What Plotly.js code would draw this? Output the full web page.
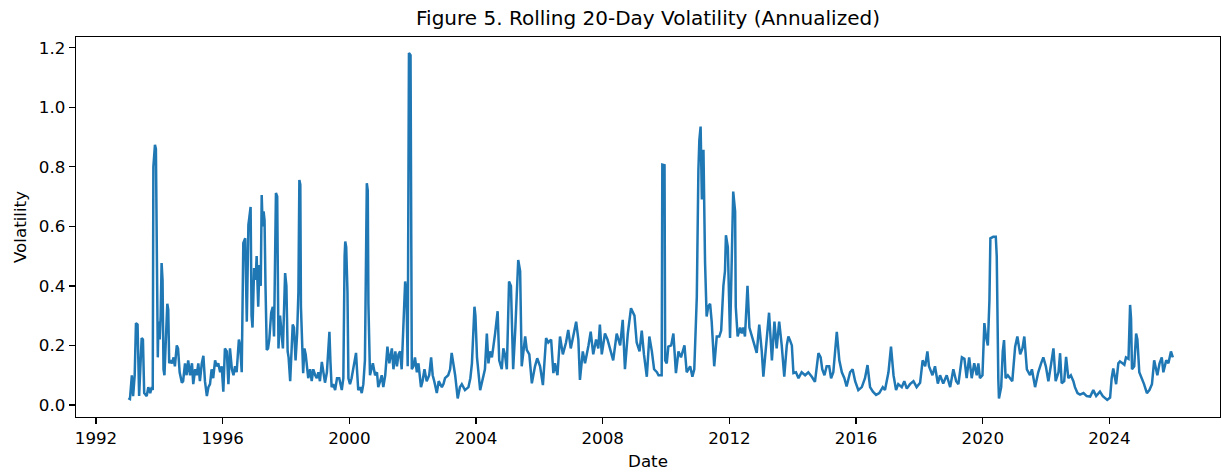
<!DOCTYPE html>
<html>
<head>
<meta charset="utf-8">
<script src="https://cdn.plot.ly/plotly-3.0.1.min.js"></script>
<style>html,body{margin:0;padding:0;background:#fff;}#chart{width:1221px;height:472px;}</style>
</head>
<body>
<div id="chart"></div>
<script>
const years = [
1993.02,1993.07,1993.13,1993.17,1993.22,1993.26,1993.31,1993.34,1993.36,1993.44,1993.48,1993.52,1993.60,1993.65,1993.71,1993.76,1993.79,1993.81,1993.86,1993.89,1993.93,1993.95,1993.97,
1994.01,1994.04,1994.07,1994.10,1994.13,1994.16,1994.19,1994.25,1994.28,1994.31,1994.35,1994.40,1994.45,1994.49,1994.55,1994.59,1994.64,1994.71,1994.75,1994.81,1994.86,1994.91,1994.97,
1995.03,1995.07,1995.13,1995.18,1995.23,1995.28,1995.34,1995.39,1995.44,1995.50,1995.55,1995.60,1995.65,1995.70,1995.76,1995.81,1995.86,1995.92,1995.97,
1996.02,1996.07,1996.13,1996.18,1996.23,1996.29,1996.34,1996.39,1996.44,1996.51,1996.55,1996.60,1996.65,1996.71,1996.76,1996.81,1996.84,1996.88,1996.91,1996.94,1996.99,
1997.04,1997.07,1997.12,1997.16,1997.20,1997.23,1997.26,1997.29,1997.32,1997.35,1997.39,1997.43,1997.47,1997.53,1997.58,1997.62,1997.68,1997.72,1997.76,1997.81,1997.86,1997.90,1997.97,
1998.01,1998.05,1998.08,1998.13,1998.17,1998.21,1998.25,1998.30,1998.35,1998.39,1998.42,1998.45,1998.47,1998.54,1998.58,1998.62,1998.70,1998.76,1998.81,1998.86,1998.92,1998.97,
1999.02,1999.07,1999.13,1999.17,1999.23,1999.29,1999.34,1999.37,1999.40,1999.44,1999.49,1999.55,1999.61,1999.68,1999.76,1999.81,1999.85,1999.87,1999.90,1999.94,1999.97,
2000.02,2000.07,2000.12,2000.18,2000.21,2000.24,2000.28,2000.34,2000.39,2000.44,2000.49,2000.55,2000.58,2000.60,2000.65,2000.74,2000.81,2000.87,2000.91,2000.97,
2001.02,2001.07,2001.13,2001.20,2001.23,2001.26,2001.34,2001.39,2001.45,2001.50,2001.55,2001.60,2001.65,2001.70,2001.76,2001.80,2001.84,2001.88,2001.93,2001.97,
2002.02,2002.07,2002.13,2002.18,2002.23,2002.26,2002.31,2002.37,2002.44,2002.52,2002.58,2002.63,2002.68,2002.76,2002.82,2002.92,2002.97,
2003.02,2003.12,2003.18,2003.23,2003.27,2003.34,2003.42,2003.49,2003.55,2003.65,2003.76,2003.82,2003.87,2003.95,2003.98,
2004.03,2004.13,2004.23,2004.28,2004.34,2004.39,2004.44,2004.50,2004.60,2004.68,2004.73,2004.81,2004.86,2004.91,2004.97,
2005.01,2005.04,2005.10,2005.17,2005.24,2005.29,2005.33,2005.39,2005.44,2005.55,2005.60,2005.68,2005.76,2005.86,2005.93,
2006.02,2006.11,2006.21,2006.28,2006.37,2006.44,2006.49,2006.57,2006.65,2006.74,2006.84,2006.91,2006.99,
2007.07,2007.16,2007.23,2007.28,2007.37,2007.44,2007.55,2007.62,2007.70,2007.79,2007.86,2007.91,2007.97,
2008.07,2008.15,2008.23,2008.33,2008.44,2008.55,2008.63,2008.70,2008.79,2008.89,
2009.00,2009.07,2009.16,2009.23,2009.30,2009.39,2009.47,2009.55,2009.62,2009.71,2009.76,2009.86,2009.88,2009.95,2009.97,
2010.02,2010.07,2010.16,2010.23,2010.31,2010.39,2010.47,2010.58,2010.65,2010.76,2010.83,2010.89,2010.97,
2011.02,2011.05,2011.09,2011.13,2011.18,2011.23,2011.28,2011.33,2011.39,2011.44,2011.52,2011.60,2011.68,2011.74,2011.81,2011.86,2011.89,2011.95,
2012.02,2012.07,2012.12,2012.18,2012.20,2012.26,2012.34,2012.39,2012.44,2012.49,2012.57,2012.63,2012.71,2012.81,2012.86,2012.94,
2013.02,2013.07,2013.15,2013.25,2013.34,2013.42,2013.49,2013.57,2013.65,2013.73,2013.81,2013.86,2013.91,2013.97,
2014.02,2014.10,2014.18,2014.28,2014.39,2014.49,2014.60,2014.70,2014.81,2014.88,2014.93,
2015.00,2015.07,2015.15,2015.21,2015.28,2015.39,2015.47,2015.55,2015.63,2015.70,2015.81,2015.89,2015.97,
2016.07,2016.18,2016.28,2016.36,2016.44,2016.53,2016.63,2016.73,2016.84,2016.91,
2017.02,2017.10,2017.18,2017.26,2017.33,2017.44,2017.52,2017.60,2017.70,2017.81,2017.91,
2018.02,2018.10,2018.18,2018.25,2018.30,2018.41,2018.49,2018.58,2018.65,2018.75,2018.86,2018.97,
2019.07,2019.16,2019.23,2019.34,2019.42,2019.49,2019.57,2019.65,2019.73,2019.81,2019.86,2019.91,2019.99,
2020.05,2020.10,2020.16,2020.21,2020.24,2020.33,2020.41,2020.44,2020.49,2020.51,2020.58,2020.63,2020.67,2020.72,2020.79,2020.86,2020.93,
2021.02,2021.09,2021.18,2021.25,2021.31,2021.39,2021.49,2021.55,2021.65,2021.75,2021.84,2021.91,2021.99,
2022.07,2022.16,2022.23,2022.30,2022.39,2022.44,2022.49,2022.57,2022.63,2022.70,2022.78,2022.86,2022.91,2022.99,
2023.07,2023.18,2023.28,2023.39,2023.49,2023.58,2023.70,2023.79,2023.84,2023.93,
2024.02,2024.07,2024.12,2024.21,2024.28,2024.33,2024.41,2024.47,2024.52,2024.60,2024.65,2024.68,2024.71,2024.78,2024.84,2024.88,2024.94,
2025.02,2025.09,2025.18,2025.26,2025.34,2025.41,2025.47,2025.51,2025.58,2025.65,2025.70,2025.79,2025.86,2025.94,2026.00
];

// Rolling 20-day annualized volatility
const volatility = [
0.023,0.02,0.10,0.03,0.10,0.275,0.27,0.05,0.03,0.225,0.22,0.04,0.03,0.06,0.04,0.06,0.05,0.80,0.874,0.86,0.25,0.16,0.28,
0.22,0.30,0.477,0.42,0.12,0.10,0.18,0.34,0.32,0.14,0.15,0.14,0.16,0.13,0.20,0.19,0.11,0.075,0.08,0.14,0.10,0.15,0.10,
0.14,0.07,0.12,0.10,0.14,0.08,0.14,0.165,0.08,0.03,0.06,0.07,0.12,0.09,0.15,0.13,0.14,0.11,0.13,
0.045,0.19,0.18,0.07,0.19,0.12,0.10,0.13,0.11,0.22,0.20,0.11,0.544,0.56,0.28,0.605,0.63,0.665,0.30,0.26,0.46,
0.42,0.50,0.33,0.47,0.40,0.705,0.60,0.65,0.62,0.40,0.185,0.19,0.22,0.31,0.33,0.23,0.712,0.70,0.19,0.30,0.22,0.19,0.443,
0.40,0.18,0.16,0.08,0.20,0.27,0.26,0.15,0.24,0.38,0.756,0.74,0.33,0.107,0.19,0.17,0.09,0.12,0.08,0.12,0.10,0.09,
0.11,0.08,0.145,0.12,0.075,0.11,0.20,0.246,0.15,0.06,0.07,0.05,0.09,0.09,0.05,0.09,0.50,0.549,0.53,0.38,0.09,
0.07,0.09,0.12,0.16,0.175,0.12,0.05,0.06,0.04,0.07,0.15,0.745,0.72,0.34,0.10,0.14,0.10,0.11,0.06,0.08,
0.10,0.06,0.10,0.196,0.15,0.14,0.19,0.12,0.18,0.13,0.17,0.18,0.12,0.24,0.415,0.38,0.13,1.182,1.175,0.12,
0.13,0.16,0.11,0.14,0.10,0.06,0.08,0.12,0.08,0.10,0.16,0.10,0.08,0.04,0.08,0.06,0.07,
0.09,0.10,0.12,0.175,0.15,0.10,0.022,0.06,0.07,0.05,0.06,0.09,0.14,0.33,0.30,
0.16,0.05,0.10,0.12,0.24,0.14,0.18,0.16,0.24,0.315,0.15,0.12,0.19,0.17,0.12,
0.30,0.415,0.40,0.12,0.26,0.40,0.487,0.45,0.13,0.23,0.185,0.17,0.073,0.13,0.157,
0.13,0.067,0.225,0.21,0.22,0.107,0.14,0.10,0.23,0.17,0.21,0.252,0.19,
0.23,0.28,0.22,0.084,0.18,0.14,0.20,0.246,0.17,0.22,0.19,0.27,0.17,
0.24,0.22,0.19,0.15,0.24,0.20,0.286,0.12,0.24,0.325,
0.30,0.21,0.18,0.25,0.17,0.095,0.23,0.18,0.12,0.11,0.10,0.10,0.807,0.805,0.15,
0.14,0.196,0.20,0.24,0.107,0.18,0.16,0.20,0.11,0.13,0.095,0.12,0.364,
0.79,0.89,0.935,0.69,0.857,0.48,0.297,0.33,0.34,0.28,0.13,0.23,0.23,0.25,0.40,0.45,0.57,0.53,
0.225,0.45,0.717,0.65,0.33,0.23,0.26,0.24,0.26,0.23,0.40,0.26,0.23,0.20,0.175,0.27,
0.18,0.095,0.20,0.31,0.15,0.28,0.19,0.28,0.20,0.095,0.20,0.23,0.218,0.20,
0.107,0.11,0.09,0.11,0.10,0.11,0.095,0.078,0.174,0.16,0.12,
0.10,0.13,0.13,0.09,0.11,0.246,0.15,0.11,0.09,0.062,0.11,0.12,0.08,
0.05,0.06,0.09,0.134,0.06,0.045,0.034,0.04,0.06,0.05,
0.11,0.196,0.10,0.05,0.07,0.06,0.08,0.055,0.07,0.08,0.06,
0.075,0.15,0.13,0.18,0.13,0.10,0.13,0.072,0.10,0.072,0.10,0.06,
0.12,0.08,0.07,0.16,0.155,0.09,0.16,0.09,0.14,0.10,0.14,0.09,0.10,
0.275,0.23,0.20,0.353,0.56,0.565,0.565,0.50,0.084,0.022,0.06,0.18,0.218,0.09,0.10,0.09,0.08,
0.196,0.23,0.17,0.19,0.23,0.12,0.10,0.12,0.06,0.11,0.14,0.16,0.13,
0.08,0.14,0.19,0.08,0.11,0.174,0.073,0.08,0.162,0.09,0.10,0.08,0.06,0.04,
0.035,0.04,0.03,0.028,0.05,0.03,0.045,0.03,0.025,0.017,
0.025,0.09,0.123,0.07,0.14,0.146,0.14,0.135,0.16,0.155,0.336,0.29,0.12,0.13,0.24,0.22,0.11,
0.09,0.07,0.04,0.05,0.07,0.15,0.12,0.10,0.14,0.16,0.11,0.15,0.14,0.18,0.16
];

const xTickStart = '1992-01-01';
const xTickStepMonths = 48;

function yearToDate(y) {
  const yr = Math.floor(y);
  const a = Date.UTC(yr, 0, 1), b = Date.UTC(yr + 1, 0, 1);
  return new Date(a + (y - yr) * (b - a)).toISOString().slice(0, 19).replace('T', ' ');
}

const dates = years.map(yearToDate);
const font = 'DejaVu Sans, Verdana, sans-serif';

const trace = {
  x: dates,
  y: volatility,
  type: 'scatter',
  mode: 'lines',
  line: {color: '#1f77b4', width: 2.5},
  hoverinfo: 'x+y'
};

const axisCommon = {
  showline: true, linecolor: '#000', linewidth: 1.3, mirror: true,
  showgrid: false, zeroline: false,
  ticks: 'outside', ticklen: 6, tickwidth: 1.3, tickcolor: '#000',
  tickfont: {family: font, size: 16.7, color: '#000'}
};

const layout = {
  width: 1221, height: 472,
  margin: {l: 76, r: 1, t: 37, b: 55},
  paper_bgcolor: '#fff', plot_bgcolor: '#fff',
  showlegend: false,
  title: {
    text: 'Figure 5. Rolling 20-Day Volatility (Annualized)',
    font: {family: font, size: 20, color: '#000'},
    x: 0.5, xref: 'paper', y: 1 - 18 / 472, yref: 'container', yanchor: 'middle'
  },
  xaxis: Object.assign({}, axisCommon, {
    type: 'date',
    range: [yearToDate(1991.368), yearToDate(2027.49)],
    tick0: xTickStart, dtick: 'M' + xTickStepMonths, tickformat: '%Y',
    title: {text: 'Date', font: {family: font, size: 16.7, color: '#000'}, standoff: 8}
  }),
  yaxis: Object.assign({}, axisCommon, {
    range: [-0.0403, 1.236],
    tick0: 0, dtick: 0.2, tickformat: '.1f',
    title: {text: 'Volatility', font: {family: font, size: 16.7, color: '#000'}, standoff: 8}
  })
};

Plotly.newPlot('chart', [trace], layout, {displayModeBar: false, staticPlot: true});
</script>
</body>
</html>
